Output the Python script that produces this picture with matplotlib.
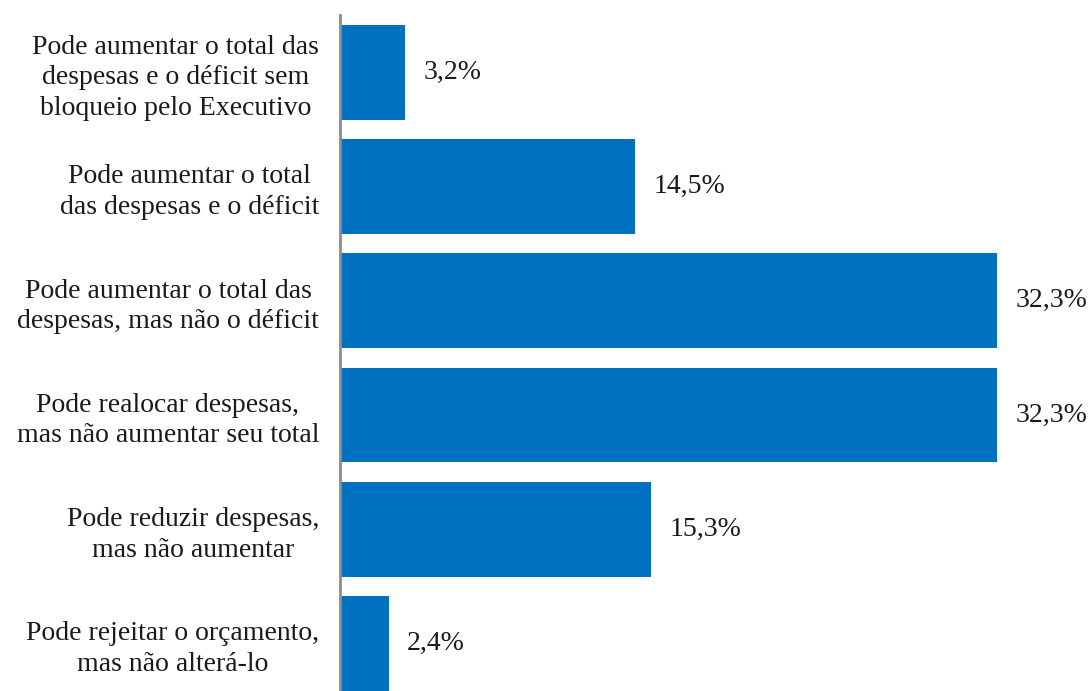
import matplotlib
matplotlib.use("Agg")
import matplotlib.pyplot as plt

categorias = [
    "Pode aumentar o total das\ndespesas e o déficit sem\nbloqueio pelo Executivo",
    "Pode aumentar o total\ndas despesas e o déficit",
    "Pode aumentar o total das\ndespesas, mas não o déficit",
    "Pode realocar despesas,\nmas não aumentar seu total",
    "Pode reduzir despesas,\nmas não aumentar",
    "Pode rejeitar o orçamento,\nmas não alterá-lo",
]
valores = [3.2, 14.5, 32.3, 32.3, 15.3, 2.4]
rotulos = ["3,2%", "14,5%", "32,3%", "32,3%", "15,3%", "2,4%"]

plt.rcParams["font.family"] = ["Liberation Serif", "DejaVu Serif"]

fig = plt.figure(figsize=(10.91, 6.91), dpi=100)
ax = fig.add_axes([340 / 1091, 0, 751 / 1091, 676 / 691])

y = list(range(len(categorias)))
ax.barh(y, valores, height=0.83, color="#0070C0")
for yi, v, r in zip(y, valores, rotulos):
    ax.text(v + 0.9, yi, r, va="center", ha="left", fontsize=20, color="#1a1a1a")

ax.set_xlim(0, 751 / 20.34)
ax.set_ylim(5.416, -0.5)
ax.set_yticks(y)
ax.set_yticklabels(categorias, fontsize=20, multialignment="center", linespacing=1.28, color="#1a1a1a")
ax.tick_params(axis="y", length=0, pad=15)
ax.set_xticks([])
for s in ["top", "right", "bottom"]:
    ax.spines[s].set_visible(False)
ax.spines["left"].set_color("#8c8c8c")
ax.spines["left"].set_linewidth(2)

fig.savefig("out.png", dpi=100)
